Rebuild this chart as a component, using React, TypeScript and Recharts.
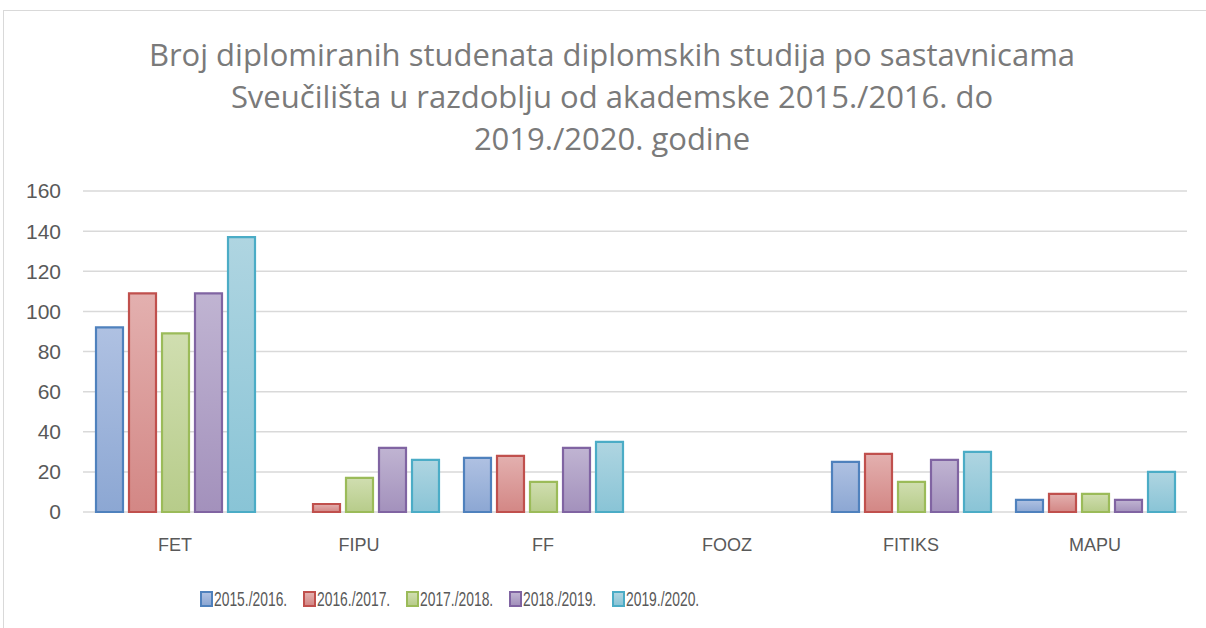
import { BarChart, Bar, XAxis, YAxis, CartesianGrid } from 'recharts';

const categories = ['FET', 'FIPU', 'FF', 'FOOZ', 'FITIKS', 'MAPU'];
const years = ['2015./2016.', '2016./2017.', '2017./2018.', '2018./2019.', '2019./2020.'];

const y2015 = [92, 0, 27, 0, 25, 6];
const y2016 = [109, 4, 28, 0, 29, 9];
const y2017 = [89, 17, 15, 0, 15, 9];
const y2018 = [109, 32, 32, 0, 26, 6];
const y2019 = [137, 26, 35, 0, 30, 20];

const yTicks = [0, 20, 40, 60, 80, 100, 120, 140, 160];

const seriesValues = [y2015, y2016, y2017, y2018, y2019];

const palette = [
    { stroke: '#4F81BD', top: '#AFC1E2', bottom: '#8CA7D3' },
    { stroke: '#C0504D', top: '#E3B0AF', bottom: '#D38785' },
    { stroke: '#9BBB59', top: '#D0DEB0', bottom: '#B7CC8A' },
    { stroke: '#8064A2', top: '#C0B4D2', bottom: '#A391BC' },
    { stroke: '#4BACC6', top: '#AFD5E1', bottom: '#89C4D6' },
];

const data = categories.map((name, i) => {
    const row: Record<string, string | number> = { name };
    years.forEach((y, s) => {
        row[y] = seriesValues[s][i];
    });
    return row;
});

const font = '"Liberation Sans", Arial, sans-serif';
const titleFont = '"Open Sans", "Noto Sans", sans-serif';

export default function App() {
    return (
        <div style={{ position: 'absolute', left: 0, top: 0, width: 1206, height: 628, background: '#fff', overflow: 'hidden', fontFamily: font }}>
            <div style={{ position: 'absolute', left: 3, top: 10, width: 1220, height: 640, border: '1px solid #D9D9D9' }} />
            <div style={{ position: 'absolute', left: 0, top: 33, width: 1224, textAlign: 'center', fontSize: 31, lineHeight: '42px', color: '#7A7A7A', fontFamily: titleFont }}>
                Broj diplomiranih studenata diplomskih studija po sastavnicama
                <br />
                Sveučilišta u razdoblju od akademske 2015./2016. do
                <br />
                2019./2020. godine
            </div>
            <BarChart
                width={1206}
                height={628}
                data={data}
                margin={{ top: 191, right: 19, left: 0, bottom: 86 }}
                barCategoryGap={13}
                barGap={6}
                style={{ position: 'absolute', left: 0, top: 0 }}
            >
                <defs>
                    {palette.map((p, i) => (
                        <linearGradient key={i} id={`grad${i}`} x1="0" y1="0" x2="0" y2="1">
                            <stop offset="0%" stopColor={p.top} />
                            <stop offset="100%" stopColor={p.bottom} />
                        </linearGradient>
                    ))}
                </defs>
                <CartesianGrid vertical={false} stroke="#D9D9D9" strokeWidth={1.5} />
                <XAxis
                    dataKey="name"
                    height={30}
                    axisLine={false}
                    tickLine={false}
                    tick={{ fill: '#595959', fontSize: 18, fontFamily: font }}
                    dy={18}
                />
                <YAxis
                    width={83}
                    domain={[0, 160]}
                    ticks={yTicks}
                    axisLine={false}
                    tickLine={false}
                    tick={{ fill: '#595959', fontSize: 21, fontFamily: font }}
                    dx={-14}
                />
                {years.map((y, i) => (
                    <Bar
                        key={y}
                        dataKey={y}
                        fill={`url(#grad${i})`}
                        stroke={palette[i].stroke}
                        strokeWidth={2.2}
                        isAnimationActive={false}
                    />
                ))}
            </BarChart>
            <div style={{ position: 'absolute', left: 200, top: 587, display: 'flex', color: '#595959', fontSize: 21 }}>
                {years.map((y, i) => (
                    <div key={y} style={{ display: 'flex', alignItems: 'center', width: 103 }}>
                        <span style={{ display: 'inline-block', flexShrink: 0, width: 9, height: 12, border: `2px solid ${palette[i].stroke}`, background: `linear-gradient(${palette[i].top}, ${palette[i].bottom})`, marginRight: 1 }} />
                        <span style={{ display: 'inline-block', transform: 'scaleX(0.66)', transformOrigin: 'left center', whiteSpace: 'nowrap' }}>{y}</span>
                    </div>
                ))}
            </div>
        </div>
    );
}
